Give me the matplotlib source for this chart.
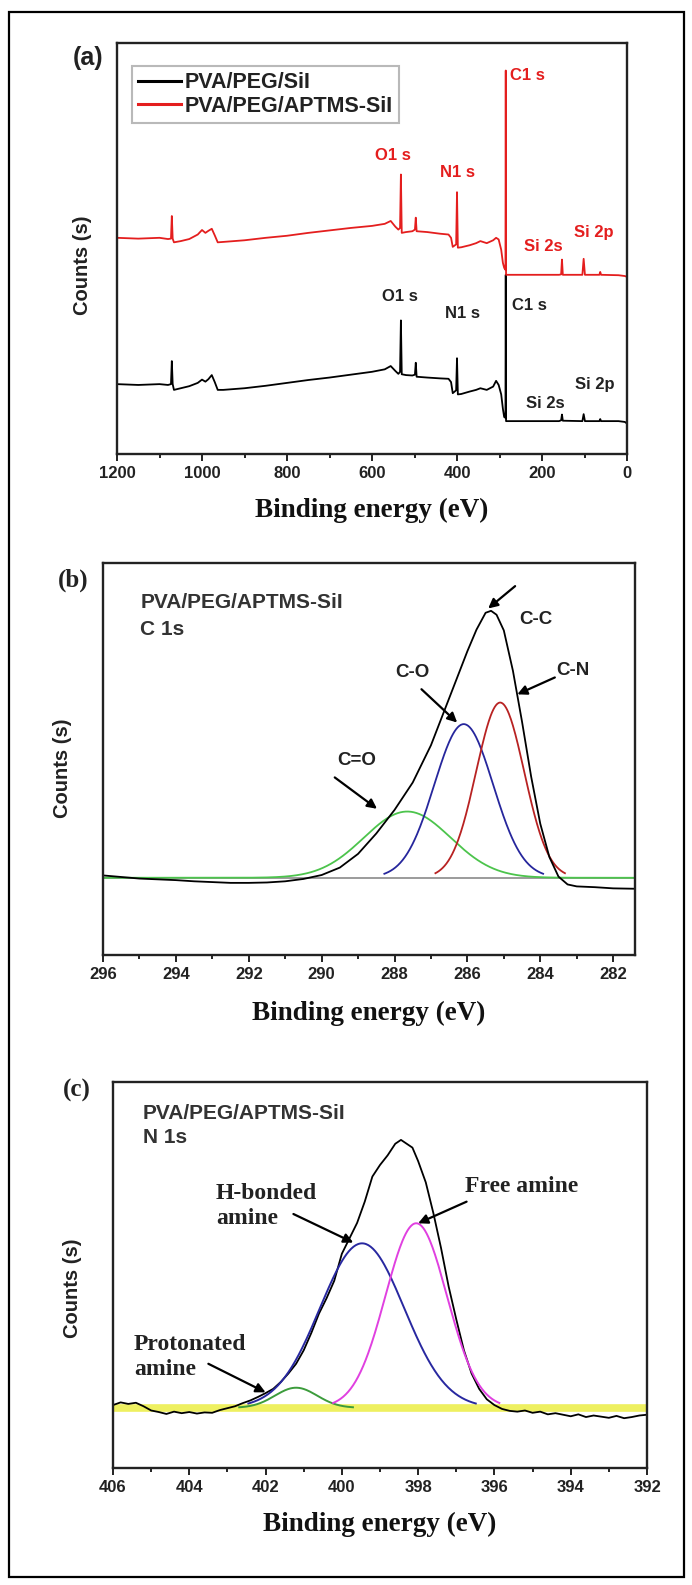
import numpy as np
import matplotlib
matplotlib.use("Agg")
import matplotlib.pyplot as plt
from matplotlib.lines import Line2D
from matplotlib.patches import Rectangle

W, H, DPI = 692, 1585, 100
SANS = ["Liberation Sans", "DejaVu Sans"]
SERIF = ["Liberation Serif", "DejaVu Serif"]

# ---------------- (a) survey spectra ----------------
survey_be = [1200, 1150, 1100, 1080, 1073, 1071, 1069, 1066,
             1050, 1030, 1010, 1000, 992, 985, 977, 970, 963, 950,
             900, 850, 800, 750, 700, 650, 600, 570, 556, 545,
             538, 534, 532, 530, 520, 505, 499, 497, 495, 470,
             440, 420, 414, 410, 402, 400, 398, 390, 370, 355,
             345, 330, 315, 308, 302, 296, 292, 289, 286, 285.3,
             284.6, 280, 200, 160, 155, 153, 151, 105, 102, 99,
             65, 63, 61, 20, 5, 0]
survey_black = [17.0, 16.8, 17.0, 16.8, 17.0, 22.6, 17.0, 15.6,
                16.0, 16.5, 17.3, 18.1, 17.6, 18.2, 19.2, 17.5, 15.6, 15.6,
                16.0, 16.6, 17.3, 18.0, 18.6, 19.3, 20.0, 20.6, 21.4, 20.2,
                19.5, 20.0, 32.5, 19.4, 19.2, 19.1, 19.3, 22.2, 18.8, 18.6,
                18.4, 18.3, 17.5, 14.8, 15.5, 23.3, 14.5, 14.6, 15.2, 15.6,
                16.0, 15.6, 16.4, 17.8, 16.8, 14.5, 11.0, 9.0, 8.8, 43.6,
                8.0, 8.0, 8.0, 8.0, 8.2, 9.6, 8.1, 8.0, 9.7, 8.0,
                8.0, 8.5, 8.0, 8.0, 7.8, 7.4]
survey_red = [52.6, 52.4, 52.6, 52.3, 52.4, 57.9, 52.4, 51.5,
              51.8, 52.3, 53.4, 54.5, 53.8, 54.3, 54.8, 53.2, 51.5, 51.6,
              52.0, 52.6, 53.1, 53.8, 54.4, 55.0, 55.5, 56.0, 56.7, 55.3,
              54.6, 55.0, 68.0, 53.8, 54.0, 54.2, 54.6, 57.5, 54.2, 54.0,
              53.6, 53.4, 52.6, 50.4, 51.0, 63.7, 50.2, 50.3, 50.8, 51.3,
              51.8, 51.3, 52.0, 52.6, 52.2, 49.7, 46.5, 45.3, 44.8, 93.3,
              43.6, 43.6, 43.6, 43.6, 43.7, 47.3, 43.6, 43.6, 47.5, 43.6,
              43.6, 44.3, 43.6, 43.5, 43.3, 43.1]
survey_names = ["PVA/PEG/SiI", "PVA/PEG/APTMS-SiI"]
# peak labels: (text, energy, level)
red_labels = [("O1 s", 551, 72.7), ("N1 s", 398, 68.6), ("C1 s", 235, 92.0),
              ("Si 2s", 196, 50.5), ("Si 2p", 79, 53.8)]
black_labels = [("O1 s", 535, 38.3), ("N1 s", 387, 34.2), ("C1 s", 229, 36.2),
                ("Si 2s", 193, 12.4), ("Si 2p", 75, 16.9)]

# ---------------- (b) C 1s high resolution ----------------
c1s_be = [296.0, 295.5, 295.0, 294.5, 294.0, 293.5, 293.0, 292.5, 292.0,
          291.5, 291.0, 290.5, 290.0, 289.5, 289.0, 288.5, 288.0, 287.5,
          287.0, 286.5, 286.0, 285.75, 285.5, 285.35, 285.2, 285.0, 284.75,
          284.5, 284.25, 284.0, 283.75, 283.5, 283.25, 283.0, 282.5, 282.0,
          281.4]
c1s_counts = [20.3, 19.9, 19.5, 19.3, 19.1, 18.8, 18.6, 18.4, 18.4,
              18.5, 18.8, 19.4, 20.4, 22.3, 25.8, 31.0, 37.0, 44.0,
              53.5, 65.5, 77.5, 83.0, 87.3, 87.8, 86.8, 82.8, 72.5,
              59.5, 45.5, 33.5, 25.0, 20.0, 18.0, 17.5, 17.3, 17.0,
              16.9]
c1s_baseline = 19.7
c1s_components = ["C=O", "C-O", "C-N"]
c1s_center = [287.65, 286.1, 285.1]
c1s_height = [16.9, 39.2, 44.7]
c1s_fwhm = [2.8, 1.9, 1.55]
c1s_colors = ["#4cc44c", "#26269c", "#b82222"]

# ---------------- (c) N 1s high resolution ----------------
n1s_be = [406.0, 405.8, 405.6, 405.4, 405.2, 405.0, 404.8, 404.6, 404.4, 404.2,
          404.0, 403.8, 403.6, 403.4, 403.2, 403.0, 402.8, 402.6, 402.4, 402.2,
          402.0, 401.8, 401.6, 401.4, 401.2, 401.0, 400.8, 400.6, 400.4, 400.2,
          400.0, 399.8, 399.6, 399.4, 399.2, 399.0, 398.8, 398.6, 398.45, 398.3,
          398.15, 398.0, 397.8, 397.6, 397.4, 397.2, 397.0, 396.8, 396.6, 396.4,
          396.2, 396.0, 395.8, 395.6, 395.4, 395.2, 395.0, 394.8, 394.6, 394.4,
          394.2, 394.0, 393.8, 393.6, 393.4, 393.2, 393.0, 392.8, 392.6, 392.4,
          392.2, 392.0]
n1s_counts = [16.3, 17.0, 16.6, 16.9, 16.0, 14.9, 14.5, 14.0, 14.6, 14.2,
              14.5, 14.1, 14.4, 14.3, 15.0, 15.5, 16.0, 16.8, 17.5, 18.4,
              19.4, 20.5, 22.3, 24.5, 27.0, 30.5, 35.0, 40.0, 44.0, 48.5,
              55.5, 59.5, 63.5, 69.0, 75.5, 78.5, 81.0, 84.0, 85.0, 84.0,
              83.0, 79.5, 74.0, 66.0, 57.0, 47.0, 38.5, 30.5, 24.5, 20.5,
              17.8, 16.3, 15.3, 14.8, 14.6, 14.9, 14.3, 14.6, 13.9, 14.2,
              13.8, 13.4, 13.9, 13.2, 13.6, 13.3, 13.0, 13.5, 12.9, 13.2,
              13.6, 13.8]
n1s_baseline = 15.6
n1s_components = ["Protonated amine", "H-bonded amine", "Free amine"]
n1s_center = [401.2, 399.47, 398.05]
n1s_height = [5.2, 42.6, 47.8]
n1s_fwhm = [1.3, 2.6, 1.9]
n1s_colors = ["#3c9c3c", "#2828a0", "#e040e0"]

sample_name = "PVA/PEG/APTMS-SiI"


def peak(center, height, fwhm, base, half_span=2.7):
    sigma = fwhm / 2.3548
    x = np.linspace(center - half_span * sigma, center + half_span * sigma, 200)
    return x, base + height * np.exp(-0.5 * ((x - center) / sigma) ** 2)


def px_axes(fig, left, top, right, bottom):
    return fig.add_axes([left / W, 1 - bottom / H, (right - left) / W, (bottom - top) / H])


def style(ax, xlim, major, minor):
    ax.set_xlim(*xlim)
    ax.set_ylim(0, 100)
    ax.set_yticks([])
    ax.set_xticks(major)
    ax.set_xticks(minor, minor=True)
    ax.set_xticklabels([f"{v:g}" for v in major], fontfamily=SANS,
                       fontweight="bold", fontsize=12, color="#222")
    ax.tick_params(axis="x", which="major", direction="out", length=5,
                   width=1.4, pad=3.5, color="#222")
    ax.tick_params(axis="x", which="minor", direction="out", length=3,
                   width=1.4, color="#222")
    for s in ax.spines.values():
        s.set_linewidth(1.7)
        s.set_color("#222")


def fig_text(x, y, s, **kw):
    fig.text(x / W, 1 - y / H, s, ha="center", va="center", **kw)


def arrow(ax, tail, tip):
    ax.annotate("", xy=tip, xytext=tail,
                arrowprops=dict(arrowstyle="-|>", color="k", lw=1.6,
                                mutation_scale=14, shrinkA=0, shrinkB=0))


fig = plt.figure(figsize=(W / DPI, H / DPI), dpi=DPI)
fig.patches.append(Rectangle((9 / W, 1 - 1577 / H), 675 / W, 1565 / H,
                             transform=fig.transFigure, fill=False,
                             edgecolor="k", linewidth=1.6))

xlabel_kw = dict(fontfamily=SERIF, fontweight="bold", fontsize=19.5, color="#111")
ylabel_kw = dict(fontfamily=SANS, fontweight="bold", fontsize=14.5, color="#222",
                 rotation=90)

# ---- panel (a)
axa = px_axes(fig, 117, 43, 627, 454)
axa.plot(survey_be, survey_black, color="k", lw=1.3)
axa.plot(survey_be, survey_red, color="#e41e1e", lw=1.3)
style(axa, (1200, 0), list(range(1200, -1, -200)), list(range(1100, 0, -200)))
for t, e, v in red_labels:
    axa.text(e, v, t, color="#e41e1e", fontfamily=SANS, fontweight="bold",
             fontsize=12, ha="center", va="center")
for t, e, v in black_labels:
    axa.text(e, v, t, color="#222", fontfamily=SANS, fontweight="bold",
             fontsize=12, ha="center", va="center")
handles = [Line2D([], [], color="k", lw=2.2), Line2D([], [], color="#e41e1e", lw=2.2)]
leg = axa.legend(handles, survey_names, loc="upper left",
                 bbox_to_anchor=(0.029, 0.945), fancybox=False,
                 prop=dict(family=SANS, weight="bold", size=15.5),
                 handlelength=2.0, handletextpad=0.15, labelspacing=0.12,
                 borderpad=0.3, borderaxespad=0)
leg.get_frame().set_edgecolor("#a8a8a8")
leg.get_frame().set_linewidth(1.5)
for txt in leg.get_texts():
    txt.set_color("#222")
fig_text(372, 510, "Binding energy (eV)", **xlabel_kw)
fig_text(82, 265, "Counts (s)", **ylabel_kw)
fig_text(88, 58, "(a)", fontfamily=SANS, fontweight="bold", fontsize=18, color="#222")

# ---- panel (b)
axb = px_axes(fig, 103, 563, 635, 955)
axb.plot([296, 281.4], [c1s_baseline, c1s_baseline], color="#8a8a8a", lw=1.2)
xg = np.linspace(296, 281.4, 400)
sg = c1s_fwhm[0] / 2.3548
axb.plot(xg, c1s_baseline + c1s_height[0] * np.exp(-0.5 * ((xg - c1s_center[0]) / sg) ** 2),
         color=c1s_colors[0], lw=1.3)
for i in (1, 2):
    x, y = peak(c1s_center[i], c1s_height[i], c1s_fwhm[i], c1s_baseline)
    axb.plot(x, y, color=c1s_colors[i], lw=1.3)
axb.plot(c1s_be, c1s_counts, color="k", lw=1.3)
style(axb, (296, 281.4), list(range(296, 281, -2)), list(range(295, 282, -2)))
ann_kw = dict(fontfamily=SANS, fontweight="bold", fontsize=13.5, color="#222")
axb.text(284.57, 85.6, "C-C", ha="left", va="center", **ann_kw)
arrow(axb, (284.69, 94.1), (285.43, 88.4))
axb.text(283.1, 72.5, "C-N", ha="center", va="center", **ann_kw)
arrow(axb, (283.6, 70.8), (284.63, 66.5))
axb.text(287.5, 72.0, "C-O", ha="center", va="center", **ann_kw)
arrow(axb, (287.26, 67.8), (286.28, 59.3))
axb.text(289.03, 49.6, "C=O", ha="center", va="center", **ann_kw)
arrow(axb, (289.64, 45.3), (288.48, 37.3))
samp_kw = dict(fontfamily=SANS, fontweight="bold", fontsize=15, color="#333",
               transform=axb.transAxes, ha="left", va="center")
axb.text(0.07, 0.898, sample_name, **samp_kw)
axb.text(0.07, 0.83, "C 1s", **samp_kw)
fig_text(369, 1013, "Binding energy (eV)", **xlabel_kw)
fig_text(62, 768, "Counts (s)", **ylabel_kw)
fig_text(73, 580, "(b)", fontfamily=SERIF, fontweight="bold", fontsize=18, color="#222")

# ---- panel (c)
axc = px_axes(fig, 113, 1082, 647, 1468)
axc.plot([406, 392], [n1s_baseline, n1s_baseline], color="#eef060", lw=5.5, solid_capstyle="butt")
axc.plot(n1s_be, n1s_counts, color="k", lw=1.3)
for i in range(3):
    x, y = peak(n1s_center[i], n1s_height[i], n1s_fwhm[i], n1s_baseline)
    axc.plot(x, y, color=n1s_colors[i], lw=1.4)
style(axc, (406, 392), list(range(406, 391, -2)), list(range(405, 392, -2)))
serif_kw = dict(fontfamily=SERIF, fontweight="bold", fontsize=17, color="#222")
axc.text(403.3, 67.8, "H-bonded\namine", ha="left", va="center", linespacing=1.25, **serif_kw)
arrow(axc, (401.27, 65.8), (399.7, 58.4))
axc.text(395.3, 72.8, "Free amine", ha="center", va="center", **serif_kw)
arrow(axc, (396.73, 69.0), (398.0, 63.4))
axc.text(405.45, 28.7, "Protonated\namine", ha="left", va="center", linespacing=1.25, **serif_kw)
arrow(axc, (403.5, 27.0), (402.0, 19.6))
samp_kw["transform"] = axc.transAxes
axc.text(0.056, 0.918, sample_name, **samp_kw)
axc.text(0.056, 0.856, "N 1s", **samp_kw)
fig_text(380, 1524, "Binding energy (eV)", **xlabel_kw)
fig_text(72, 1288, "Counts (s)", **ylabel_kw)
fig_text(77, 1090, "(c)", fontfamily=SERIF, fontweight="bold", fontsize=18, color="#222")

fig.savefig("out.png", dpi=DPI)
